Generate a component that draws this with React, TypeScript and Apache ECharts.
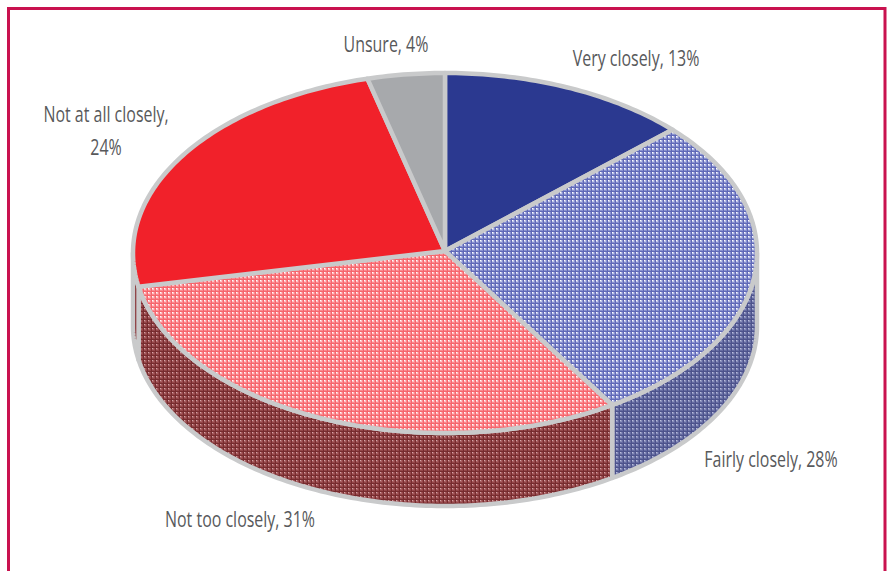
import React, { useEffect, useRef } from "react";
import * as echarts from "echarts";

const categories = ["Very closely", "Fairly closely", "Not too closely", "Not at all closely", "Unsure"];
const shares = [13, 28, 31, 24, 4];

const CX = 445;
const CY = 253;
const RX = 312;
const RY = 180;
const DEPTH = 73;
const EDGE = "#c9cacb";

const labelLayout = [
  { x: 636, y: 58, lines: 1 },
  { x: 771, y: 459, lines: 1 },
  { x: 240, y: 519, lines: 1 },
  { x: 106, y: 130, lines: 2 },
  { x: 386, y: 44, lines: 1 },
];

function tile(white: string, light: string, mid: string, dark: string) {
  const c = document.createElement("canvas");
  c.width = 4;
  c.height = 4;
  const g = c.getContext("2d")!;
  g.fillStyle = mid;
  g.fillRect(0, 0, 4, 4);
  g.fillStyle = light;
  g.fillRect(0, 0, 2, 2);
  g.fillStyle = white;
  g.fillRect(0, 0, 1, 1);
  g.fillStyle = dark;
  g.fillRect(3, 0, 1, 4);
  g.fillRect(0, 3, 4, 1);
  return { image: c, repeat: "repeat" };
}

const pt = (deg: number, dy = 0): number[] => {
  const t = (deg * Math.PI) / 180;
  return [CX + RX * Math.sin(t), CY - RY * Math.cos(t) + dy];
};

const arc = (a: number, b: number, dy = 0): number[][] => {
  const out: number[][] = [];
  const n = Math.max(2, Math.ceil(Math.abs(b - a)));
  for (let i = 0; i <= n; i++) out.push(pt(a + ((b - a) * i) / n, dy));
  return out;
};

export default function App() {
  const ref = useRef<HTMLDivElement>(null);
  useEffect(() => {
    document.body.style.margin = "0";
    const chart = echarts.init(ref.current!, null, { renderer: "svg" });

    const topFills: any[] = [
      "#2b3990",
      tile("#ffffff", "#c3c8ea", "#8a92d0", "#6069b8"),
      tile("#ffffff", "#ffc4c7", "#fb8a90", "#f6666d"),
      "#f1212a",
      "#a7a9ac",
    ];
    const sideFills: any[] = [
      "#1c2660",
      tile("#b9bddc", "#8a90bc", "#666ca2", "#4d538c"),
      tile("#d3a5a7", "#aa6063", "#944649", "#772c2f"),
      "#7d1a1e",
      "#6c6e70",
    ];

    const total = shares.reduce((s, v) => s + v, 0);
    let acc = 0;
    const spans = shares.map((v) => {
      const start = (acc / total) * 360;
      acc += v;
      return [start, (acc / total) * 360];
    });
    const rows = spans.map((s, i) => ({ name: categories[i], value: [s[0], s[1], shares[i]] }));

    const sideSeries = {
      type: "custom",
      coordinateSystem: "none",
      silent: true,
      z: 2,
      data: rows,
      renderItem: (params: any, api: any) => {
        const a = Math.max(api.value(0), 90);
        const b = Math.min(api.value(1), 270);
        if (a >= b) return { type: "group", children: [] };
        const points = [...arc(a, b, 0), ...arc(b, a, DEPTH)];
        return {
          type: "polygon",
          shape: { points },
          style: { fill: sideFills[params.dataIndex], stroke: EDGE, lineWidth: 4.5, lineJoin: "round" },
        };
      },
    };

    const topSeries = {
      type: "custom",
      coordinateSystem: "none",
      silent: true,
      z: 3,
      data: rows,
      renderItem: (params: any, api: any) => {
        const points = [[CX, CY - 2], ...arc(api.value(0), api.value(1))];
        return {
          type: "polygon",
          shape: { points },
          style: { fill: topFills[params.dataIndex], stroke: EDGE, lineWidth: 4.5, lineJoin: "round" },
        };
      },
    };

    const labels = categories.map((name, i) => {
      const l = labelLayout[i];
      const sep = l.lines === 2 ? ",\n" : ", ";
      return {
        type: "text",
        x: l.x,
        y: l.y,
        scaleX: 0.76,
        z: 10,
        style: {
          text: `${name}${sep}${shares[i]}%`,
          fontFamily: "'Open Sans', sans-serif",
          fontSize: 21,
          lineHeight: 33,
          fill: "#58595b",
          align: "center",
          verticalAlign: "middle",
        },
      };
    });

    chart.setOption({
      animation: false,
      backgroundColor: "#ffffff",
      series: [sideSeries, topSeries],
      graphic: [
        {
          type: "rect",
          z: 0,
          shape: { x: 8.5, y: 8.5, width: 876.5, height: 640 },
          style: { fill: "none", stroke: "#c9124f", lineWidth: 3 },
        },
        ...labels,
      ],
    });
    return () => chart.dispose();
  }, []);
  return <div ref={ref} style={{ width: 887, height: 571 }} />;
}
